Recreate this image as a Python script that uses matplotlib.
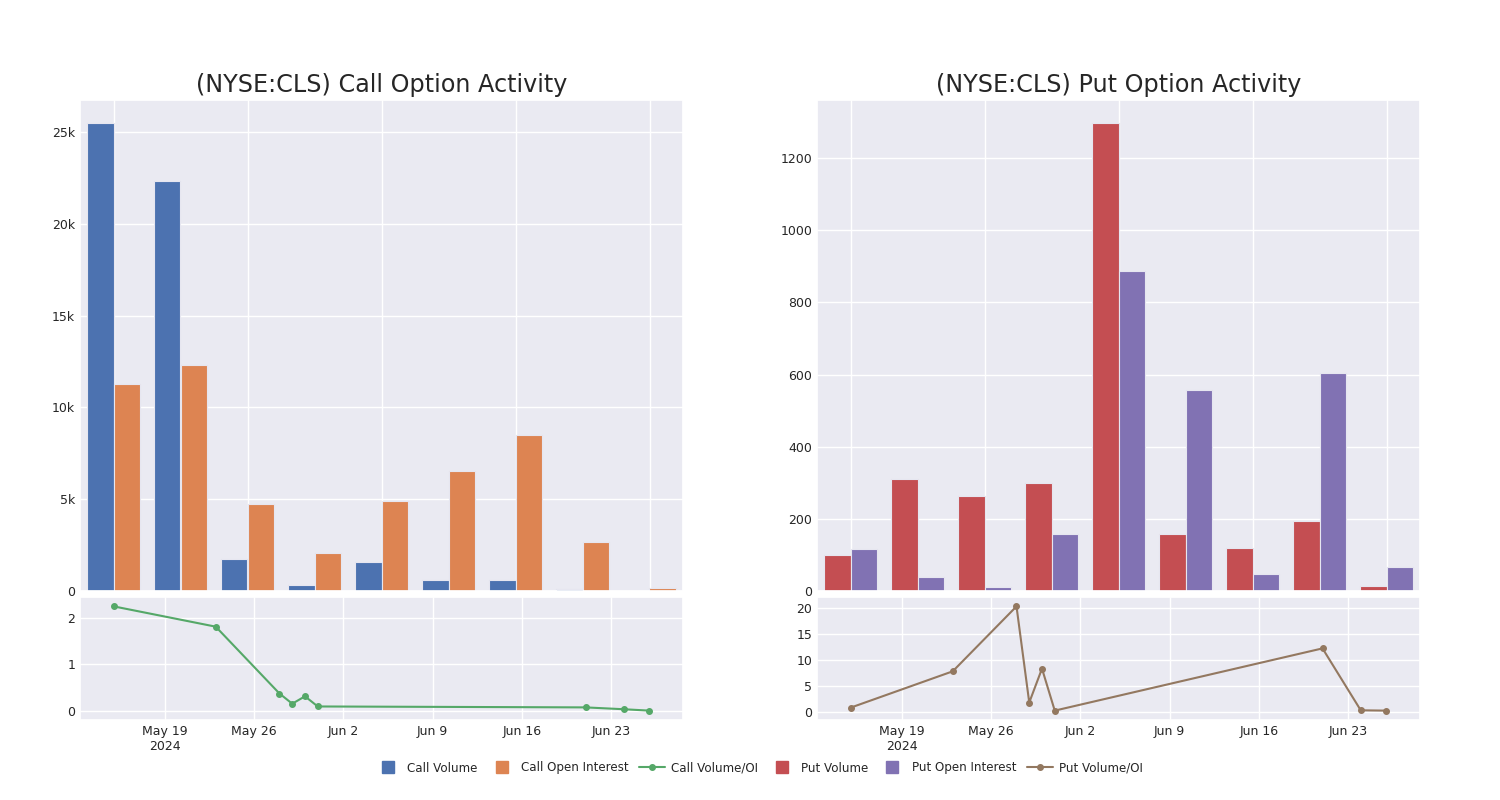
import matplotlib
matplotlib.use('Agg')
import matplotlib.pyplot as plt
from matplotlib.ticker import FuncFormatter, MaxNLocator
from matplotlib.lines import Line2D
import numpy as np
import pandas as pd
import seaborn as sns

dates = pd.to_datetime(['2024-05-15', '2024-05-23', '2024-05-28', '2024-05-29', '2024-05-30',
                        '2024-05-31', '2024-06-21', '2024-06-24', '2024-06-26'])

call_volume = [25475, 22309, 1747, 311, 1565, 583, 600, 90, 0]
call_open_interest = [11283, 12336, 4731, 2056, 4913, 6533, 8478, 2693, 182]
call_ratio = [2.26, 1.82, 0.37, 0.15, 0.31, 0.09, 0.07, 0.03, 0.0]

put_volume = [100, 311, 263, 299, 1296, 157, 119, 193, 13]
put_open_interest = [116, 40, 12, 158, 887, 556, 47, 604, 66]
put_ratio = [0.78, 7.78, 20.3, 1.76, 8.3, 0.2, 12.2, 0.26, 0.2]

date_ticks = pd.to_datetime(['2024-05-19', '2024-05-26', '2024-06-02', '2024-06-09',
                             '2024-06-16', '2024-06-23'])
date_tick_labels = ['May 19\n2024', 'May 26', 'Jun 2', 'Jun 9', 'Jun 16', 'Jun 23']

sns.set_theme(style='darkgrid')
pal = sns.color_palette('deep')
plt.rcParams['font.family'] = ['DejaVu Sans']

fig = plt.figure(figsize=(15, 8), dpi=100)


def k_format(v, pos):
    if v == 0:
        return '0'
    if abs(v) >= 1000:
        return f'{v / 1000:g}k'
    return f'{v:g}'


def draw_panel(left, title, volume, oi, ratio, c_vol, c_oi, c_ratio, use_k):
    width = 0.402
    ax_bar = fig.add_axes([left, 0.26125, width, 0.61375])
    ax_line = fig.add_axes([left, 0.10, width, 0.15375])

    x = np.arange(len(volume))
    ax_bar.bar(x - 0.2, volume, width=0.4, color=c_vol, edgecolor='#e6e6f0', linewidth=0.8)
    ax_bar.bar(x + 0.2, oi, width=0.4, color=c_oi, edgecolor='#e6e6f0', linewidth=0.8)
    ax_bar.set_xlim(-0.5, len(volume) - 0.5)
    ax_bar.set_ylim(0, max(max(volume), max(oi)) * 1.05)
    ax_bar.set_xticks(x[::2])
    ax_bar.set_xticklabels([])
    ax_bar.tick_params(axis='both', length=0, labelsize=9)
    if use_k:
        ax_bar.yaxis.set_major_formatter(FuncFormatter(k_format))
    ax_bar.set_title(title, fontsize=17.2, pad=6)

    ax_line.plot(dates, ratio, color=c_ratio, marker='o', markersize=4, linewidth=1.5)
    ax_line.margins(x=0.063, y=0.09)
    ax_line.set_xticks(date_ticks)
    ax_line.set_xticklabels(date_tick_labels)
    ax_line.yaxis.set_major_locator(MaxNLocator(nbins=5, steps=[1, 2, 5, 10], integer=True))
    ax_line.tick_params(axis='both', length=0, labelsize=9)
    return ax_bar, ax_line


draw_panel(80 / 1500, '(NYSE:CLS) Call Option Activity', call_volume, call_open_interest,
           call_ratio, pal[0], pal[1], pal[2], True)
draw_panel(817 / 1500, '(NYSE:CLS) Put Option Activity', put_volume, put_open_interest,
           put_ratio, pal[3], pal[4], pal[5], False)

handles = [
    Line2D([], [], linestyle='none', marker='s', markersize=9, color=pal[0]),
    Line2D([], [], linestyle='none', marker='s', markersize=9, color=pal[1]),
    Line2D([], [], color=pal[2], marker='o', markersize=4, linewidth=1.5),
    Line2D([], [], linestyle='none', marker='s', markersize=9, color=pal[3]),
    Line2D([], [], linestyle='none', marker='s', markersize=9, color=pal[4]),
    Line2D([], [], color=pal[5], marker='o', markersize=4, linewidth=1.5),
]
labels = ['Call Volume', 'Call Open Interest', 'Call Volume/OI',
          'Put Volume', 'Put Open Interest', 'Put Volume/OI']
fig.legend(handles, labels, loc='center', bbox_to_anchor=(0.506, 0.04), ncol=6,
           frameon=False, fontsize=8.6, handlelength=2.2, handletextpad=0.5,
           columnspacing=0.9)

fig.savefig('out.png', dpi=100)
